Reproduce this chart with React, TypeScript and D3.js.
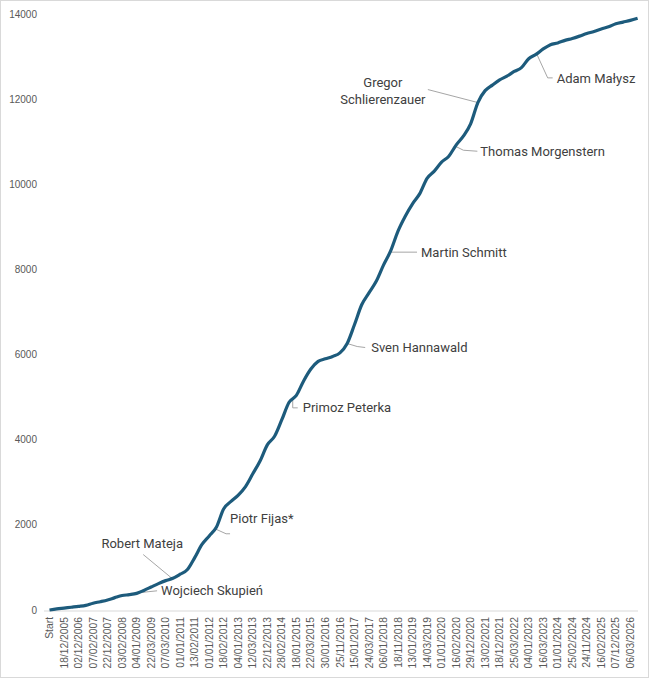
import { line, curveMonotoneX, scaleLinear, range } from "d3";

// category labels shown on the x axis (every other data point)
const dateLabels = [
  "Start", "18/12/2005", "02/12/2006", "07/02/2007", "22/12/2007", "03/02/2008",
  "04/01/2009", "22/03/2009", "07/03/2010", "01/01/2011", "13/02/2011", "01/01/2012",
  "18/02/2012", "04/01/2013", "12/03/2013", "22/12/2013", "28/02/2014", "18/01/2015",
  "22/03/2015", "30/01/2016", "25/11/2016", "15/01/2017", "24/03/2017", "06/01/2018",
  "18/11/2018", "13/01/2019", "14/03/2019", "01/01/2020", "16/02/2020", "29/12/2020",
  "13/02/2021", "18/12/2021", "25/03/2022", "04/01/2023", "16/03/2023", "01/01/2024",
  "25/02/2024", "24/11/2024", "16/02/2025", "07/12/2025", "06/03/2026",
];

// cumulative total, two points per labelled category
const totals = [
  0, 25, 45, 65, 85, 110, 160, 195, 235, 290, 340, 360, 390, 460, 540, 620,
  690, 745, 840, 950, 1230, 1540, 1740, 1950, 2380, 2550, 2700, 2900, 3200, 3500,
  3880, 4080, 4470, 4880, 5040, 5380, 5660, 5840, 5900, 5955, 6040, 6260, 6700, 7170,
  7450, 7720, 8100, 8440, 8900, 9250, 9540, 9780, 10140, 10310, 10520, 10660, 10920,
  11130, 11420, 11920, 12200, 12330, 12450, 12540, 12650, 12740, 12950, 13050, 13180,
  13280, 13320, 13380, 13425, 13480, 13540, 13590, 13650, 13700, 13770, 13810, 13850,
  13900,
];

const yTicks = [0, 2000, 4000, 6000, 8000, 10000, 12000, 14000];

// annotated jumpers: position along the series, leader path and label offsets (px)
const annotations = [
  { names: ["Wojciech Skupień"], at: 12.2, leader: [[0, 0], [19, -2]], dx: 23, dy: -2, anchor: "start" },
  { names: ["Robert Mateja"], at: 16.9, leader: [[0, 0], [-29, -24]], dx: -30, dy: -35, anchor: "middle" },
  { names: ["Piotr Fijas*"], at: 22.8, leader: [[0, 0], [11, 5], [15, 5]], dx: 15, dy: -10, anchor: "start" },
  { names: ["Primoz Peterka"], at: 33.5, leader: [[0, 0], [0, 9], [5, 9]], dx: 10, dy: 9, anchor: "start" },
  { names: ["Sven Hannawald"], at: 41.0, leader: [[0, 0], [10, 3], [18, 4]], dx: 24, dy: 4, anchor: "start" },
  { names: ["Martin Schmitt"], at: 46.9, leader: [[0, 0], [27, 0]], dx: 31, dy: 0, anchor: "start" },
  { names: ["Thomas Morgenstern"], at: 55.9, leader: [[0, 0], [8, 4], [22, 5]], dx: 25, dy: 5, anchor: "start" },
  { names: ["Gregor", "Schlierenzauer"], at: 59.0, leader: [[0, 0], [-50, -13]], dx: -95, dy: -20, anchor: "middle" },
  { names: ["Adam Małysz"], at: 67.1, leader: [[0, 0], [11, 24], [16, 24]], dx: 20, dy: 25, anchor: "start" },
];

const width = 653;
const height = 680;

const x = scaleLinear().domain([0, totals.length - 1]).range([49.5, 637.6]);
const y = scaleLinear().domain([0, 14000]).range([610, 14]);

const valueAt = (i: number) => {
  const lo = Math.floor(i);
  const hi = Math.min(totals.length - 1, lo + 1);
  return totals[lo] + (totals[hi] - totals[lo]) * (i - lo);
};

const App = () => {
  const path = line<number>()
    .x((_, i) => x(i))
    .y((d) => y(d))
    .curve(curveMonotoneX)(totals)!;

  return (
    <svg
      width={width}
      height={height}
      style={{ position: "absolute", left: 0, top: 0, background: "#fff" }}
    >
      <rect x={0.5} y={0.5} width={648} height={677} fill="#fff" stroke="#d9d9d9" />

      {/* y axis labels */}
      {yTicks.map((t) => (
        <text
          key={t}
          x={37}
          y={y(t)}
          dy="0.35em"
          textAnchor="end"
          fontSize={10}
          fontFamily="Liberation Sans, Arial, sans-serif"
          fill="#595959"
        >
          {t}
        </text>
      ))}

      {/* x axis */}
      <line x1={44} x2={638} y1={611} y2={611} stroke="#d9d9d9" />
      {range(dateLabels.length).map((k) => (
        <text
          key={k}
          transform={`translate(${x(k * 2)},617) rotate(-90)`}
          dy="0.35em"
          textAnchor="end"
          fontSize={10.3}
          fontFamily="Liberation Sans, Arial, sans-serif"
          fill="#595959"
        >
          {dateLabels[k]}
        </text>
      ))}

      {/* leader lines */}
      {annotations.map((a) => {
        const ax = x(a.at);
        const ay = y(valueAt(a.at));
        return (
          <polyline
            key={a.names[0] + "-l"}
            points={a.leader.map(([dx, dy]) => `${ax + dx},${ay + dy}`).join(" ")}
            fill="none"
            stroke="#a6a6a6"
            strokeWidth={1}
          />
        );
      })}

      <path d={path} fill="none" stroke="#1d5b7c" strokeWidth={3.2} strokeLinejoin="round" />

      {/* labels */}
      {annotations.map((a) => {
        const ax = x(a.at);
        const ay = y(valueAt(a.at));
        return (
          <text
            key={a.names[0]}
            x={ax + a.dx}
            y={ay + a.dy}
            dy="0.35em"
            textAnchor={a.anchor}
            fontSize={13}
            fontFamily="Roboto, sans-serif"
            fill="#404040"
          >
            {a.names.map((n, j) => (
              <tspan key={n} x={ax + a.dx} dy={j === 0 ? "0.35em" : 17}>
                {n}
              </tspan>
            ))}
          </text>
        );
      })}
    </svg>
  );
};

export default App;
